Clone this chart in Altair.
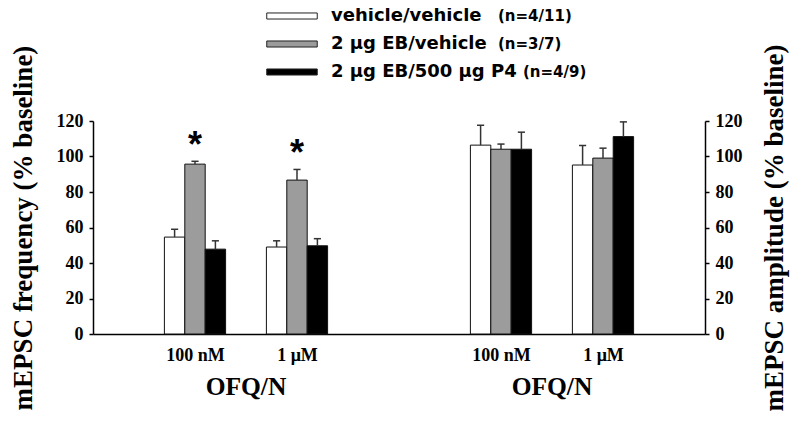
import altair as alt
import pandas as pd

# ---- data ----
groups = ["100 nM", "1 μM"]
series = ["vehicle/vehicle", "2 μg EB/vehicle", "2 μg EB/500 μg P4"]
n_labels = ["(n=4/11)", "(n=3/7)", "(n=4/9)"]

freq_mean = {
    "vehicle/vehicle": [54.6, 49.0],
    "2 μg EB/vehicle": [95.7, 86.7],
    "2 μg EB/500 μg P4": [47.8, 49.7],
}
freq_sem = {
    "vehicle/vehicle": [4.4, 3.5],
    "2 μg EB/vehicle": [1.6, 6.0],
    "2 μg EB/500 μg P4": [4.7, 4.0],
}
amp_mean = {
    "vehicle/vehicle": [106.4, 95.2],
    "2 μg EB/vehicle": [104.1, 99.1],
    "2 μg EB/500 μg P4": [104.1, 111.2],
}
amp_sem = {
    "vehicle/vehicle": [11.2, 11.0],
    "2 μg EB/vehicle": [2.9, 5.6],
    "2 μg EB/500 μg P4": [9.6, 8.3],
}
# significance (*) on the EB/vehicle frequency bars
freq_star = {"2 μg EB/vehicle": [True, True]}

y_ticks = [0, 20, 40, 60, 80, 100, 120]
x_title = "OFQ/N"
y_left_title = "mEPSC frequency (% baseline)"
y_right_title = "mEPSC amplitude (% baseline)"

colors = ["#ffffff", "#9c9c9c", "#000000"]

# ---- layout constants ----
BAR_W = 0.2
CAP_HALF = 0.035
W, H = 612, 213
LEG_BOX_X = 199
LEG_LABEL_X = 238
LEG_N_X = [405, 405, 430]
LEG_ROWS = [-105, -49]

rows = []
for measure, means, sems, base in (("freq", freq_mean, freq_sem, 0),
                                   ("amp", amp_mean, amp_sem, 3)):
    for gi, g in enumerate(groups):
        center = base + gi + 1
        for si, s in enumerate(series):
            xc = center + (si - 1) * BAR_W
            m = means[s][gi]
            top = m + sems[s][gi]
            star = measure == "freq" and freq_star.get(s, [False, False])[gi]
            rows.append(dict(measure=measure, group=g, series=s, xc=xc,
                             x0=xc - BAR_W / 2, x1=xc + BAR_W / 2,
                             cap0=xc - CAP_HALF, cap1=xc + CAP_HALF,
                             mean=m, top=top, star=star))
df = pd.DataFrame(rows)

xscale = alt.Scale(domain=[0, 6], nice=False, zero=False)
tick_vals = [1, 2, 4, 5]
label_expr = ("(datum.value == 1 || datum.value == 4) ? '%s' : '%s'"
              % (groups[0], groups[1]))
xaxis = alt.Axis(values=tick_vals, labelExpr=label_expr, ticks=False, grid=False,
                 domain=True, title=None, labelFont="Liberation Serif",
                 labelFontWeight="bold", labelFontSize=18, labelColor="black",
                 labelPadding=12, domainColor="black", domainWidth=1.5,
                 labelFlush=False, labelOverlap=False)
yscale = alt.Scale(domain=[0, 120], nice=False)

def yaxis(orient, title):
    kw = dict(orient=orient, values=y_ticks, grid=False, tickSize=4, domain=True,
              tickColor="black", tickWidth=1.5, domainColor="black",
              domainWidth=1.5, labelFont="Liberation Serif",
              labelFontWeight="bold", labelFontSize=18, labelColor="black",
              labelPadding=6, title=title, titleFont="Liberation Serif",
              titleFontWeight="bold", titleFontSize=27, titleColor="black",
              titlePadding=19)
    if orient == "right":
        kw.update(titleAngle=270, titleBaseline="top", titlePadding=19)
    return alt.Axis(**kw)

fill = alt.Fill("series:N", scale=alt.Scale(domain=series, range=colors), legend=None)

def panel(measure, axis):
    d = df[df.measure == measure]
    base = alt.Chart(d)
    bars = base.mark_bar(stroke="#111111", strokeWidth=1).encode(
        x=alt.X("x0:Q", scale=xscale, axis=xaxis), x2="x1:Q",
        y=alt.Y("mean:Q", scale=yscale, axis=axis), y2=alt.datum(0), fill=fill)
    err = base.mark_rule(color="#333333", strokeWidth=1.5).encode(
        x=alt.X("xc:Q", scale=xscale, axis=xaxis),
        y=alt.Y("mean:Q", scale=yscale, axis=axis), y2="top:Q")
    cap = base.mark_rule(color="#333333", strokeWidth=1.5).encode(
        x=alt.X("cap0:Q", scale=xscale, axis=xaxis), x2="cap1:Q",
        y=alt.Y("top:Q", scale=yscale, axis=axis))
    layers = [bars, err, cap]
    if measure == "freq":
        stars = alt.Chart(d[d.star]).mark_text(
            text="*", font="Liberation Sans", fontWeight="bold", fontSize=36,
            baseline="alphabetic", dy=-4, color="black").encode(
            x=alt.X("xc:Q", scale=xscale, axis=xaxis),
            y=alt.Y("top:Q", scale=yscale, axis=axis))
        layers.append(stars)
    return alt.layer(*layers)

left = panel("freq", yaxis("left", y_left_title))
right = panel("amp", yaxis("right", y_right_title))

title_df = pd.DataFrame({"x": [1.5, 4.5], "t": [x_title, x_title]})
titles = alt.Chart(title_df).mark_text(
    font="Liberation Serif", fontWeight="bold", fontSize=25.5,
    baseline="alphabetic", align="center", color="black").encode(
    x=alt.X("x:Q", scale=xscale, axis=xaxis), y=alt.value(274), text="t:N")

leg_df = pd.DataFrame({"series": series, "row": list(range(len(series))),
                       "n": n_labels})
leg_y = alt.Y("row:O", scale=alt.Scale(type="point", domain=[0, 1, 2],
                                       range=LEG_ROWS, padding=0), axis=None)
leg_box = alt.Chart(leg_df).mark_point(
    shape="M-1,-0.12H1V0.12H-1Z", size=2550, filled=True, stroke="#222222",
    strokeWidth=1, opacity=1).encode(x=alt.value(LEG_BOX_X), y=leg_y, fill=fill)
leg_txt = alt.Chart(leg_df).mark_text(
    font="DejaVu Sans", fontWeight="bold", fontSize=18, align="left",
    baseline="middle", color="black").encode(
    x=alt.value(LEG_LABEL_X), y=leg_y, text="series:N")
leg_n = []
for i in range(len(series)):
    leg_n.append(alt.Chart(leg_df[leg_df.row == i]).mark_text(
        font="DejaVu Sans", fontWeight="bold", fontSize=15, align="left",
        baseline="middle", color="black").encode(
        x=alt.value(LEG_N_X[i]), y=leg_y, text="n:N"))

chart = alt.layer(left, right, titles, leg_box, leg_txt, *leg_n).resolve_scale(
    y="independent").properties(
    width=W, height=H,
    autosize=alt.AutoSizeParams(type="none"),
    padding={"left": 85, "top": 113, "right": 87, "bottom": 95},
    background="white").configure_view(stroke=None)

chart.save("out.html", embed_options={"renderer": "svg", "actions": False})
